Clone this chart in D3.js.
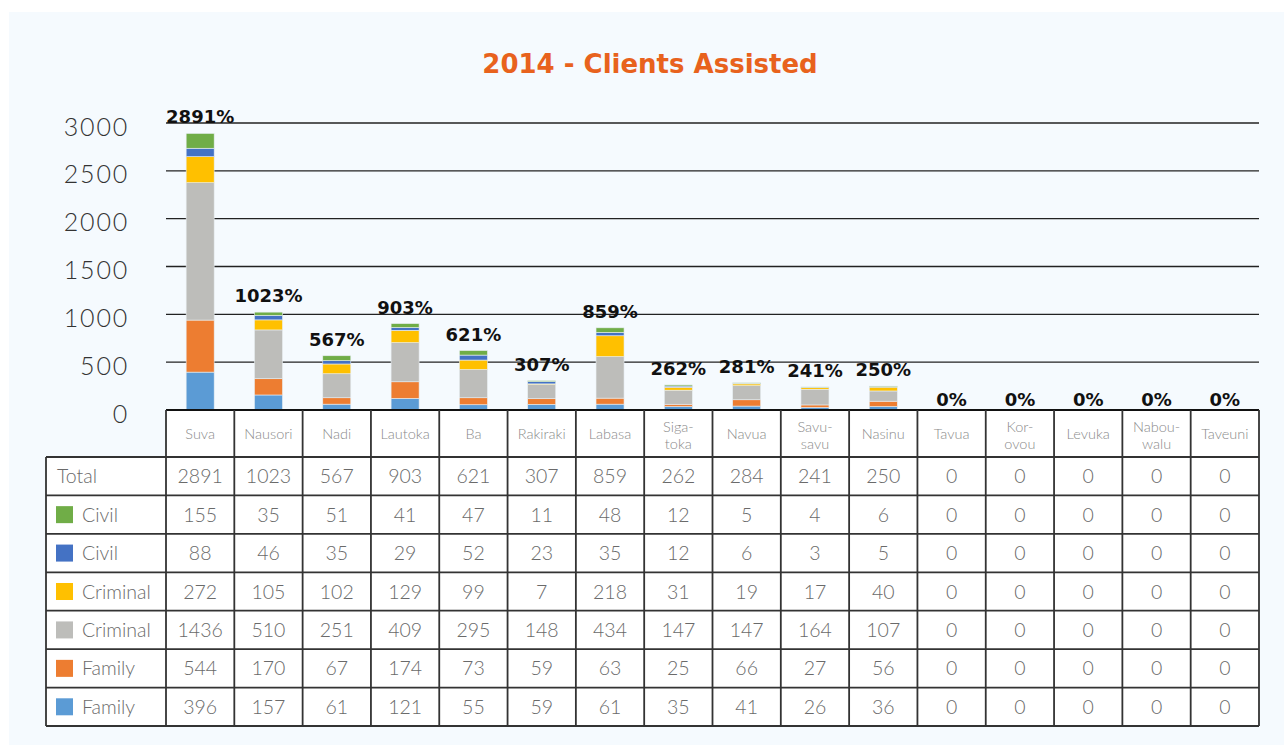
<!DOCTYPE html>
<html><head><meta charset="utf-8">
<script src="https://cdn.jsdelivr.net/npm/d3@7"></script>
<style>
body{margin:0;background:#fff;}
svg{display:block;}
</style></head>
<body>
<svg id="chart" width="1284" height="749"></svg>
<script>
const categories = ["Suva","Nausori","Nadi","Lautoka","Ba","Rakiraki","Labasa","Siga-toka","Navua","Savu-savu","Nasinu","Tavua","Kor-ovou","Levuka","Nabou-walu","Taveuni"];
const totals = [2891,1023,567,903,621,307,859,262,284,241,250,0,0,0,0,0];
const pctLabels = ["2891%","1023%","567%","903%","621%","307%","859%","262%","281%","241%","250%","0%","0%","0%","0%","0%"];
const civilGreen = [155,35,51,41,47,11,48,12,5,4,6,0,0,0,0,0];
const civilBlue = [88,46,35,29,52,23,35,12,6,3,5,0,0,0,0,0];
const criminalYellow = [272,105,102,129,99,7,218,31,19,17,40,0,0,0,0,0];
const criminalGray = [1436,510,251,409,295,148,434,147,147,164,107,0,0,0,0,0];
const familyOrange = [544,170,67,174,73,59,63,25,66,27,56,0,0,0,0,0];
const familyBlue = [396,157,61,121,55,59,61,35,41,26,36,0,0,0,0,0];
const seriesNames = ["Civil","Civil","Criminal","Criminal","Family","Family"];
const seriesColors = ["#70AD47","#4472C4","#FFC000","#BDBDBA","#ED7D31","#5B9BD5"];
const yTicks = [0,500,1000,1500,2000,2500,3000];
const title = "2014 - Clients Assisted";

const seriesData = [civilGreen, civilBlue, criminalYellow, criminalGray, familyOrange, familyBlue];

const svg = d3.select("#chart");
const W = 1284, H = 749;
const pLeft = 166, pRight = 1259, pTop = 123, pBase = 410;
const tableLeft = 46, headerH = 47, rowH = 38.43;
const fontThin = "'Lato','Open Sans',sans-serif";
const fontBold = "'DejaVu Sans','Open Sans',sans-serif";

// panel
svg.append("rect").attr("x",9).attr("y",12).attr("width",W-9).attr("height",733).attr("fill","#F5FAFE");

svg.append("text").attr("x",650).attr("y",73).attr("text-anchor","middle")
  .attr("font-family",fontBold).attr("font-weight",700).attr("font-size",26)
  .attr("fill","#E8621D").text(title);

const x = d3.scaleBand().domain(categories).range([pLeft,pRight]).padding(0);
const y = d3.scaleLinear().domain([0,3000]).range([pBase,pTop]);

// gridlines
svg.append("g").selectAll("line").data(yTicks.filter(d=>d>0)).join("line")
  .attr("x1",pLeft).attr("x2",pRight).attr("y1",d=>y(d)).attr("y2",d=>y(d))
  .attr("stroke","#222").attr("stroke-width",1.3);

// y axis labels
const yAxis = d3.axisLeft(y).tickValues(yTicks).tickFormat(d3.format("d")).tickSize(0).tickPadding(0);
const yg = svg.append("g").attr("transform",`translate(129,4)`).call(yAxis);
yg.select(".domain").remove();
yg.selectAll("text").attr("font-family",fontThin).attr("font-weight",300)
  .attr("font-size",25).attr("letter-spacing",1.8).attr("fill","#333");

// stacked bars: bottom to top order
const keys = [5,4,3,2,1,0];
const rows = categories.map((c,i)=>{const o={cat:c}; keys.forEach(k=>o[k]=seriesData[k][i]); return o;});
const stack = d3.stack().keys(keys)(rows);
const bw = x.bandwidth()*0.41;
svg.append("g").selectAll("g").data(stack).join("g")
  .attr("fill",d=>seriesColors[d.key])
  .selectAll("rect").data(d=>d).join("rect")
  .attr("x",d=>x(d.data.cat)+(x.bandwidth()-bw)/2)
  .attr("width",bw)
  .attr("y",d=>y(d[1]))
  .attr("height",d=>Math.max(0,y(d[0])-y(d[1])))
  .attr("stroke","#E8EEF2").attr("stroke-width",0.6);

// percent labels
svg.append("g").selectAll("text").data(categories).join("text")
  .attr("x",d=>x(d)+x.bandwidth()/2)
  .attr("y",(d,i)=>y(totals[i])-(totals[i]>0?10:4))
  .attr("text-anchor","middle").attr("font-family",fontBold).attr("font-weight",700)
  .attr("font-size",18).attr("fill","#111").text((d,i)=>pctLabels[i]);

// table
const tbl = svg.append("g");
tbl.append("rect").attr("x",pLeft).attr("y",pBase).attr("width",pRight-pLeft).attr("height",headerH).attr("fill","#fff");
tbl.append("rect").attr("x",tableLeft).attr("y",pBase+headerH).attr("width",pRight-tableLeft).attr("height",rowH*7).attr("fill","#fff");

categories.forEach(c=>{
  const parts = c.includes("-") ? [c.slice(0,c.indexOf("-")+1), c.slice(c.indexOf("-")+1)] : [c];
  const cx = x(c)+x.bandwidth()/2;
  const t = tbl.append("text").attr("x",cx).attr("text-anchor","middle")
    .attr("font-family",fontThin).attr("font-weight",300).attr("font-size",14.5).attr("fill","#8A8A8A");
  if(parts.length===1){ t.attr("y",pBase+headerH/2+5).text(c); }
  else {
    t.append("tspan").attr("x",cx).attr("y",pBase+headerH/2-2).text(parts[0]);
    t.append("tspan").attr("x",cx).attr("y",pBase+headerH/2+15).text(parts[1]);
  }
});

const tableRows = [{name:"Total",vals:totals,color:null}].concat(seriesData.map((s,k)=>({name:seriesNames[k],vals:s,color:seriesColors[k]})));
tableRows.forEach((r,ri)=>{
  const ry = pBase+headerH+ri*rowH;
  const cy = ry+rowH/2+7;
  if(r.color){
    tbl.append("rect").attr("x",56).attr("y",ry+rowH/2-8.5).attr("width",17).attr("height",17).attr("fill",r.color);
    tbl.append("text").attr("x",82).attr("y",cy).attr("font-family",fontThin).attr("font-weight",300)
      .attr("font-size",19.5).attr("fill","#6A6A6A").text(r.name);
  } else {
    tbl.append("text").attr("x",57).attr("y",cy).attr("font-family",fontThin).attr("font-weight",300)
      .attr("font-size",19.5).attr("fill","#6A6A6A").text(r.name);
  }
  categories.forEach((c,i)=>{
    tbl.append("text").attr("x",x(c)+x.bandwidth()/2).attr("y",cy).attr("text-anchor","middle")
      .attr("font-family",fontThin).attr("font-weight",300).attr("font-size",19.5).attr("fill","#6A6A6A")
      .text(r.vals[i]);
  });
});

const lc = "#333", lw = 1.8;
for(let ri=0; ri<=7; ri++){
  const yy = pBase+headerH+ri*rowH;
  tbl.append("line").attr("x1",tableLeft).attr("x2",pRight).attr("y1",yy).attr("y2",yy).attr("stroke",lc).attr("stroke-width",lw);
}
tbl.append("line").attr("x1",pLeft).attr("x2",pRight).attr("y1",pBase).attr("y2",pBase).attr("stroke","#111").attr("stroke-width",2);
categories.forEach(c=>{
  tbl.append("line").attr("x1",x(c)).attr("x2",x(c)).attr("y1",pBase).attr("y2",pBase+headerH+rowH*7).attr("stroke",lc).attr("stroke-width",lw);
});
tbl.append("line").attr("x1",pRight).attr("x2",pRight).attr("y1",pBase).attr("y2",pBase+headerH+rowH*7).attr("stroke",lc).attr("stroke-width",lw);
tbl.append("line").attr("x1",tableLeft).attr("x2",tableLeft).attr("y1",pBase+headerH).attr("y2",pBase+headerH+rowH*7).attr("stroke",lc).attr("stroke-width",lw);
</script>
</body></html>
